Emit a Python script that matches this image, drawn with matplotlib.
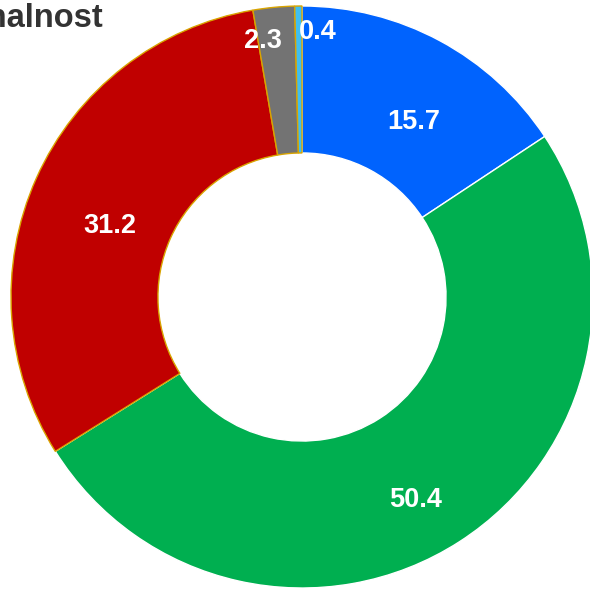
import matplotlib
matplotlib.use("Agg")
import matplotlib.pyplot as plt

categories = ["A", "B", "C", "D", "E"]
values = [15.7, 50.4, 31.2, 2.3, 0.4]
labels = ["15.7", "50.4", "31.2", "2.3", "0.4"]
colors = ["#0063fe", "#00af50", "#c00000", "#737373", "#3fbff0"]
edges = ["white", "white", "#d9a400", "#d9a400", "#d9a400"]
title = "Nacionalnost"

W, H = 590, 589
fig = plt.figure(figsize=(W / 100, H / 100), dpi=100)
ax = fig.add_axes([0, 0, 1, 1])
ax.set_xlim(0, W)
ax.set_ylim(0, H)
ax.set_aspect("equal")
ax.axis("off")

cx, cy, R = 302, H - 297, 291
wedges, _ = ax.pie(values, colors=colors, startangle=90, counterclock=False,
                   center=(cx, cy), radius=R,
                   wedgeprops=dict(width=R * 0.505, linewidth=1.0), frame=True)
for w, e in zip(wedges, edges):
    w.set_edgecolor(e)
ax.set_xlim(0, W)
ax.set_ylim(0, H)
ax.axis("off")

label_pos = [(414, 122), (416, 500), (110, 226), (263, 41), (318, 32)]
for (x, y), t in zip(label_pos, labels):
    ax.text(x, H - y, t, color="white", fontsize=19.5, fontweight="bold",
            family="Liberation Sans", ha="center", va="center")

ax.text(104, H - 27, title, color="#333333", fontsize=23.5, fontweight="bold",
        family="Liberation Sans", ha="right", va="baseline")

fig.savefig("out.png", dpi=100)
